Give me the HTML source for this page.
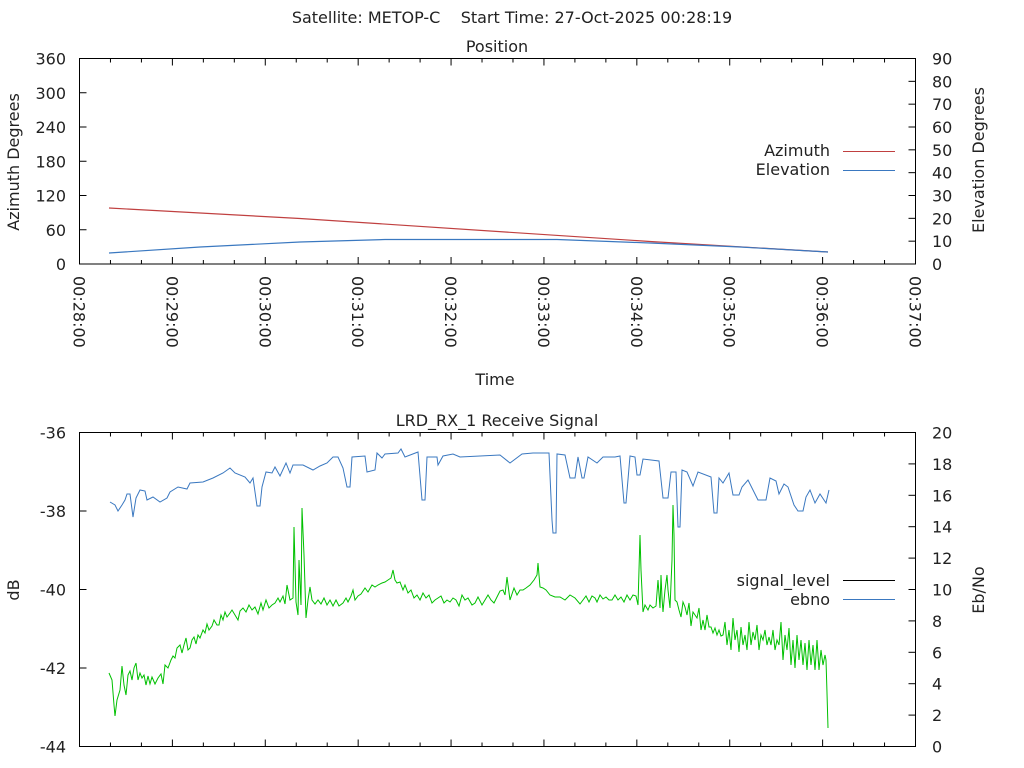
<!DOCTYPE html>
<html><head><meta charset="utf-8"><style>
body{margin:0;background:#fff;}
svg{display:block;font-family:"DejaVu Sans","Liberation Sans",sans-serif;font-size:16px;fill:#222;}
</style></head><body>
<svg width="1024" height="768" xmlns="http://www.w3.org/2000/svg">
<rect width="1024" height="768" fill="#fff"/>
<text x="512" y="23" text-anchor="middle" xml:space="preserve">Satellite: METOP-C    Start Time: 27-Oct-2025 00:28:19</text>
<text x="497" y="52" text-anchor="middle">Position</text>
<text x="497" y="426" text-anchor="middle">LRD_RX_1 Receive Signal</text>
<text x="495" y="385" text-anchor="middle">Time</text>
<text transform="translate(19,162) rotate(-90)" text-anchor="middle">Azimuth Degrees</text>
<text transform="translate(984,160) rotate(-90)" text-anchor="middle">Elevation Degrees</text>
<text transform="translate(19,590) rotate(-90)" text-anchor="middle">dB</text>
<text transform="translate(984,590) rotate(-90)" text-anchor="middle">Eb/No</text>
<g stroke="#000" stroke-width="1" fill="none" id="ticks"></g>
<rect x="79.5" y="58.5" width="836" height="205.5" fill="none" stroke="#000"/>
<rect x="79.5" y="432.5" width="836" height="314" fill="none" stroke="#000"/>
<g text-anchor="end" id="lt"></g>
<g id="rt"></g>
<g id="xl"></g>
<polyline fill="none" stroke="#c04040" stroke-width="1.2" points="109,208 300,218.5 650,241.5 828,252"/>
<polyline fill="none" stroke="#3a78c0" stroke-width="1.2" points="109,253 200,247 300,242 385,239.5 557,239.5 650,243 740,247 828,252"/>
<text x="830" y="156" text-anchor="end">Azimuth</text>
<text x="830" y="175" text-anchor="end">Elevation</text>
<line x1="843" y1="151.5" x2="895" y2="151.5" stroke="#c04040"/>
<line x1="843" y1="170.5" x2="895" y2="170.5" stroke="#3a78c0"/>
<text x="830" y="586" text-anchor="end">signal_level</text>
<text x="830" y="605" text-anchor="end">ebno</text>
<line x1="843" y1="580.5" x2="895" y2="580.5" stroke="#000"/>
<line x1="843" y1="599.5" x2="895" y2="599.5" stroke="#3a78c0"/>
<polyline fill="none" stroke="#3a78c0" stroke-width="1" points="110,502 115,505 118,511 122,505 125,500 127,494 130,494 133,517 136,498 140,490 145,491 147,500 153,497 160,502 167,498 170,492 178,487 187,489 190,483 203,482 213,478 223,473 230,468 235,473 245,477 250,483 253,478 257,506 260,506 262,487 266,472 272,473 275,467 280,476 286,463 290,473 293,465 303,465 313,470 320,466 327,463 333,457 338,457 343,468 347,487 350,487 352,457 365,456 367,472 375,470 377,453 382,458 385,454 398,453 401,449 405,457 418,452 422,500 425,500 427,457 437,457 438,465 443,456 453,454 460,457 500,455 510,463 522,454 533,453 549,453 552,520 553,533 556,533 557,454 565,455 570,478 575,478 578,457 582,478 584,478 588,457 597,463 603,457 615,457 620,456 624,503 626,503 630,456 635,457 637,475 640,475 643,459 659,461 663,498 668,498 671,472 676,472 678,527 680,527 682,470 687,472 693,486 698,472 711,477 714,513 717,513 719,478 723,483 729,473 733,495 739,495 742,487 748,480 758,500 766,500 770,478 776,481 779,494 784,484 788,487 794,505 798,511 803,511 806,497 810,490 815,503 820,494 826,503 829,490"/>
<polyline fill="none" stroke="#00c000" stroke-width="1" points="109,673 112,680 114,705 115,716 117,700 120,690 122,666 124,685 126,695 128,675 130,671 132,680 134,668 136,663 138,680 140,673 142,678 144,675 146,685 148,676 150,684 152,677 155,684 158,678 161,674 163,684 165,665 168,668 171,660 173,656 175,658 177,648 180,645 182,653 184,645 186,638 188,650 190,648 192,640 194,637 196,644 198,635 200,638 203,630 205,633 207,624 209,630 212,626 214,620 217,625 219,625 221,615 223,620 225,612 227,617 230,613 232,610 235,615 238,620 240,611 243,608 246,612 249,605 252,610 255,607 258,614 261,603 263,610 266,600 269,608 272,605 275,603 278,598 280,602 283,596 285,604 287,585 290,600 293,598 294,527 296,602 298,615 299,560 301,605 302,508 304,555 306,618 308,600 310,587 312,600 315,604 318,600 321,604 324,598 327,605 330,600 333,606 336,600 339,606 343,603 346,598 348,602 351,596 353,590 355,600 358,596 361,594 365,588 368,592 372,585 375,587 378,585 382,583 385,582 388,580 391,578 393,570 395,580 397,583 400,582 403,590 405,585 408,593 411,590 414,598 417,595 420,600 423,593 426,598 429,595 432,603 435,600 438,598 441,596 444,603 447,600 450,602 453,598 456,600 459,606 462,595 465,600 468,598 472,605 475,603 478,597 482,605 485,600 488,595 491,600 494,603 497,597 500,591 503,590 505,595 507,577 510,600 514,588 517,595 520,590 523,590 526,588 530,585 534,580 537,575 538,563 540,587 543,588 546,590 550,595 555,597 560,597 565,600 570,595 575,598 580,604 583,600 586,596 589,602 592,596 595,598 597,602 600,595 603,599 606,597 609,600 612,600 615,595 618,600 621,597 624,602 627,595 630,600 633,595 636,596 638,605 640,535 641,570 643,612 645,605 648,610 650,605 653,608 656,606 658,580 660,608 661,575 662,598 663,612 665,590 667,575 668,590 670,608 672,560 673,505 674,535 675,600 677,602 679,610 681,617 683,602 685,607 687,615 689,603 691,626 693,612 695,615 697,618 699,608 701,630 703,620 705,630 707,615 709,627 711,627 713,633 715,628 717,635 719,630 721,636 723,635 725,622 727,645 729,630 731,650 733,618 735,640 737,630 739,652 741,627 743,645 745,635 747,650 749,622 751,645 753,632 755,640 757,625 759,650 761,635 763,640 765,630 767,645 769,637 771,645 773,630 775,650 777,640 779,645 781,622 783,660 785,635 787,650 789,628 791,665 793,640 795,668 797,635 799,660 801,640 803,665 805,643 807,670 809,640 811,665 813,645 815,670 817,640 819,670 821,650 823,665 825,655 826,660 827,693 828,728"/>
<script>
var ns="http://www.w3.org/2000/svg";
function el(p,t,a,txt){var e=document.createElementNS(ns,t);for(var k in a)e.setAttribute(k,a[k]);if(txt)e.textContent=txt;document.getElementById(p).appendChild(e);}
var L=79.5,R=915.5;var step=(R-L)/27;
for(var i=0;i<=27;i++){var x=L+i*step;var len=(i%3==0)?7:4;
 el("ticks","line",{x1:x,y1:264,x2:x,y2:264-len});el("ticks","line",{x1:x,y1:58.5,x2:x,y2:58.5+len});
 el("ticks","line",{x1:x,y1:746.5,x2:x,y2:746.5-len});el("ticks","line",{x1:x,y1:432.5,x2:x,y2:432.5+len});
 if(i%3==0){var m=28+i/3;var t="00:"+m+":00";var g=document.createElementNS(ns,"text");g.setAttribute("transform","translate("+(x-6)+",276) rotate(90)");g.textContent=t;document.getElementById("xl").appendChild(g);}}
for(var i=0;i<=6;i++){var y=264-i*(205.5/6);el("ticks","line",{x1:79.5,y1:y,x2:86.5,y2:y});el("lt","text",{x:66,y:y+6},String(i*60));}
for(var i=0;i<=9;i++){var y=264-i*(205.5/9);el("ticks","line",{x1:915.5,y1:y,x2:908.5,y2:y});el("rt","text",{x:932,y:y+6},String(i*10));}
for(var i=0;i<=4;i++){var y=432.5+i*(314/4);el("ticks","line",{x1:79.5,y1:y,x2:86.5,y2:y});el("lt","text",{x:66,y:y+6},String(-36-2*i));}
for(var i=0;i<=10;i++){var y=746.5-i*(314/10);el("ticks","line",{x1:915.5,y1:y,x2:908.5,y2:y});el("rt","text",{x:932,y:y+6},String(i*2));}
</script>
</svg>
</body></html>
